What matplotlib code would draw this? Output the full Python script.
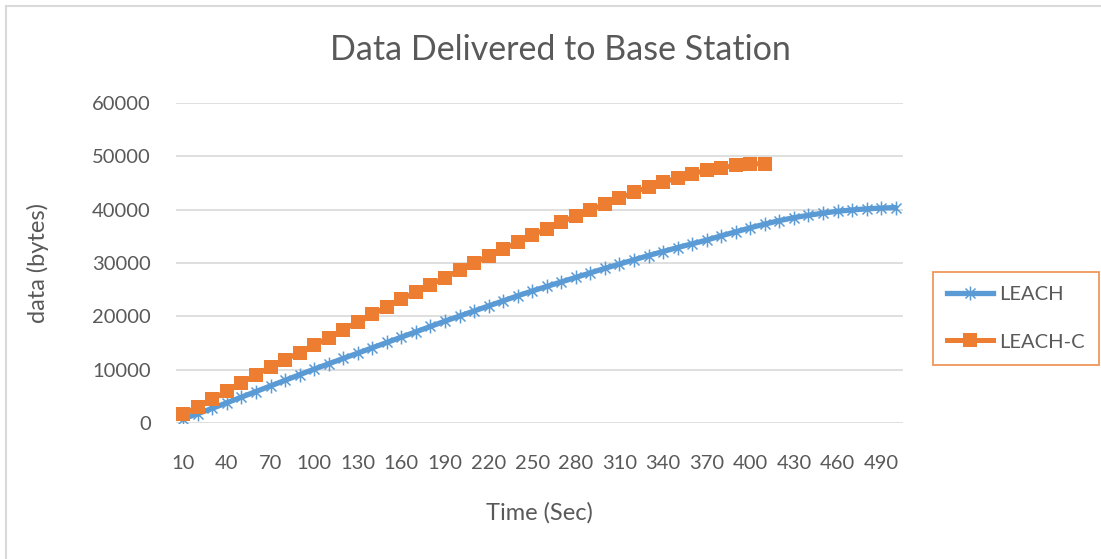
import matplotlib
matplotlib.use("Agg")
import matplotlib.pyplot as plt
from matplotlib.path import Path
from matplotlib.lines import Line2D
import numpy as np

# Simulation time (s) and bytes delivered to the base station
time_sec = list(range(10, 510, 10))

leach = [800, 1750, 2750, 3800, 4850, 5900, 6950, 8000, 9050, 10100,
         11100, 12100, 13100, 14100, 15100, 16100, 17100, 18100, 19100, 20050,
         21000, 21950, 22900, 23850, 24750, 25600, 26450, 27300, 28150, 29000,
         29800, 30600, 31400, 32150, 32900, 33600, 34300, 35100, 35850, 36600,
         37300, 37950, 38500, 38950, 39350, 39700, 39950, 40150, 40300, 40400]

leach_c = [1600, 3000, 4450, 5950, 7500, 9050, 10500, 11900, 13200, 14550,
           16000, 17500, 18950, 20350, 21750, 23200, 24550, 25950, 27250, 28650,
           30050, 31300, 32550, 33900, 35200, 36450, 37700, 38800, 40000, 41000,
           42200, 43250, 44250, 45100, 46000, 46750, 47400, 47850, 48300, 48600,
           48600]

y_ticks = [0, 10000, 20000, 30000, 40000, 50000, 60000]

BLUE = "#5B9BD5"
ORANGE = "#ED7D31"
TEXT = "#595959"
GRID = "#D9D9D9"

plt.rcParams['font.family'] = ['Lato', 'DejaVu Sans']

W, H = 1101, 559
fig = plt.figure(figsize=(W / 100, H / 100), dpi=100)
ax = fig.add_axes([176 / W, 1 - 423 / H, (903 - 176) / W, (423 - 103) / H])

# asterisk marker: an X crossed by a vertical stroke
d = 0.72
star = Path([(0, -1), (0, 1), (-d, -d), (d, d), (-d, d), (d, -d)],
            [Path.MOVETO, Path.LINETO, Path.MOVETO, Path.LINETO, Path.MOVETO, Path.LINETO])

idx_a = np.arange(len(leach))
idx_c = np.arange(len(leach_c))

ax.plot(idx_a, leach, color=BLUE, lw=3.8, solid_capstyle='round', zorder=3,
        marker=star, markersize=10, markeredgewidth=1.1,
        markeredgecolor=BLUE, markerfacecolor='none')
ax.plot(idx_c, leach_c, color=ORANGE, lw=3.6, zorder=4,
        marker='s', markersize=10.5, markeredgewidth=0,
        markerfacecolor=ORANGE)

ax.set_xlim(-0.5, len(time_sec) - 0.5)
ax.set_ylim(0, 60000)
ax.set_yticks(y_ticks)
ax.set_yticklabels([str(v) for v in y_ticks])
ax.set_xticks(idx_a[::3])
ax.set_xticklabels([str(t) for t in time_sec[::3]])

ax.yaxis.grid(True, color=GRID, lw=1.2)
ax.set_axisbelow(True)
for s in ax.spines.values():
    s.set_visible(False)
ax.tick_params(axis='both', length=0, colors=TEXT, labelsize=14.5)
ax.tick_params(axis='x', pad=23)
ax.tick_params(axis='y', pad=18)

ax.set_xlabel("Time (Sec)", fontsize=17, color=TEXT, labelpad=22)
ax.set_ylabel("data (bytes)", fontsize=17, color=TEXT, labelpad=31)
fig.text(560 / W, 1 - 50 / H, "Data Delivered to Base Station", fontsize=24.5,
         color=TEXT, ha='center', va='center')

handles = [
    Line2D([], [], color=BLUE, lw=3.8, marker=star, markersize=10,
           markeredgewidth=1.1, markeredgecolor=BLUE, markerfacecolor='none'),
    Line2D([], [], color=ORANGE, lw=3.6, marker='s', markersize=10.5,
           markeredgewidth=0, markerfacecolor=ORANGE),
]
leg = fig.legend(handles, ["LEACH", "LEACH-C"], loc='upper left',
                 bbox_to_anchor=(933 / W, 1 - 272 / H), borderaxespad=0,
                 fontsize=14.5, frameon=True, fancybox=False, handlelength=2.3,
                 labelspacing=1.5, borderpad=0.7, handletextpad=0.3,
                 labelcolor=TEXT)
leg.get_frame().set_edgecolor(ORANGE)
leg.get_frame().set_linewidth(1.3)

# light chart frame along the top and left edges
fig.add_artist(Line2D([6 / W, 1], [1 - 5.5 / H, 1 - 5.5 / H], color=GRID, lw=1.5,
                      transform=fig.transFigure))
fig.add_artist(Line2D([6 / W, 6 / W], [0, 1 - 5.5 / H], color=GRID, lw=1.5,
                      transform=fig.transFigure))

fig.savefig("out.png", dpi=100)
